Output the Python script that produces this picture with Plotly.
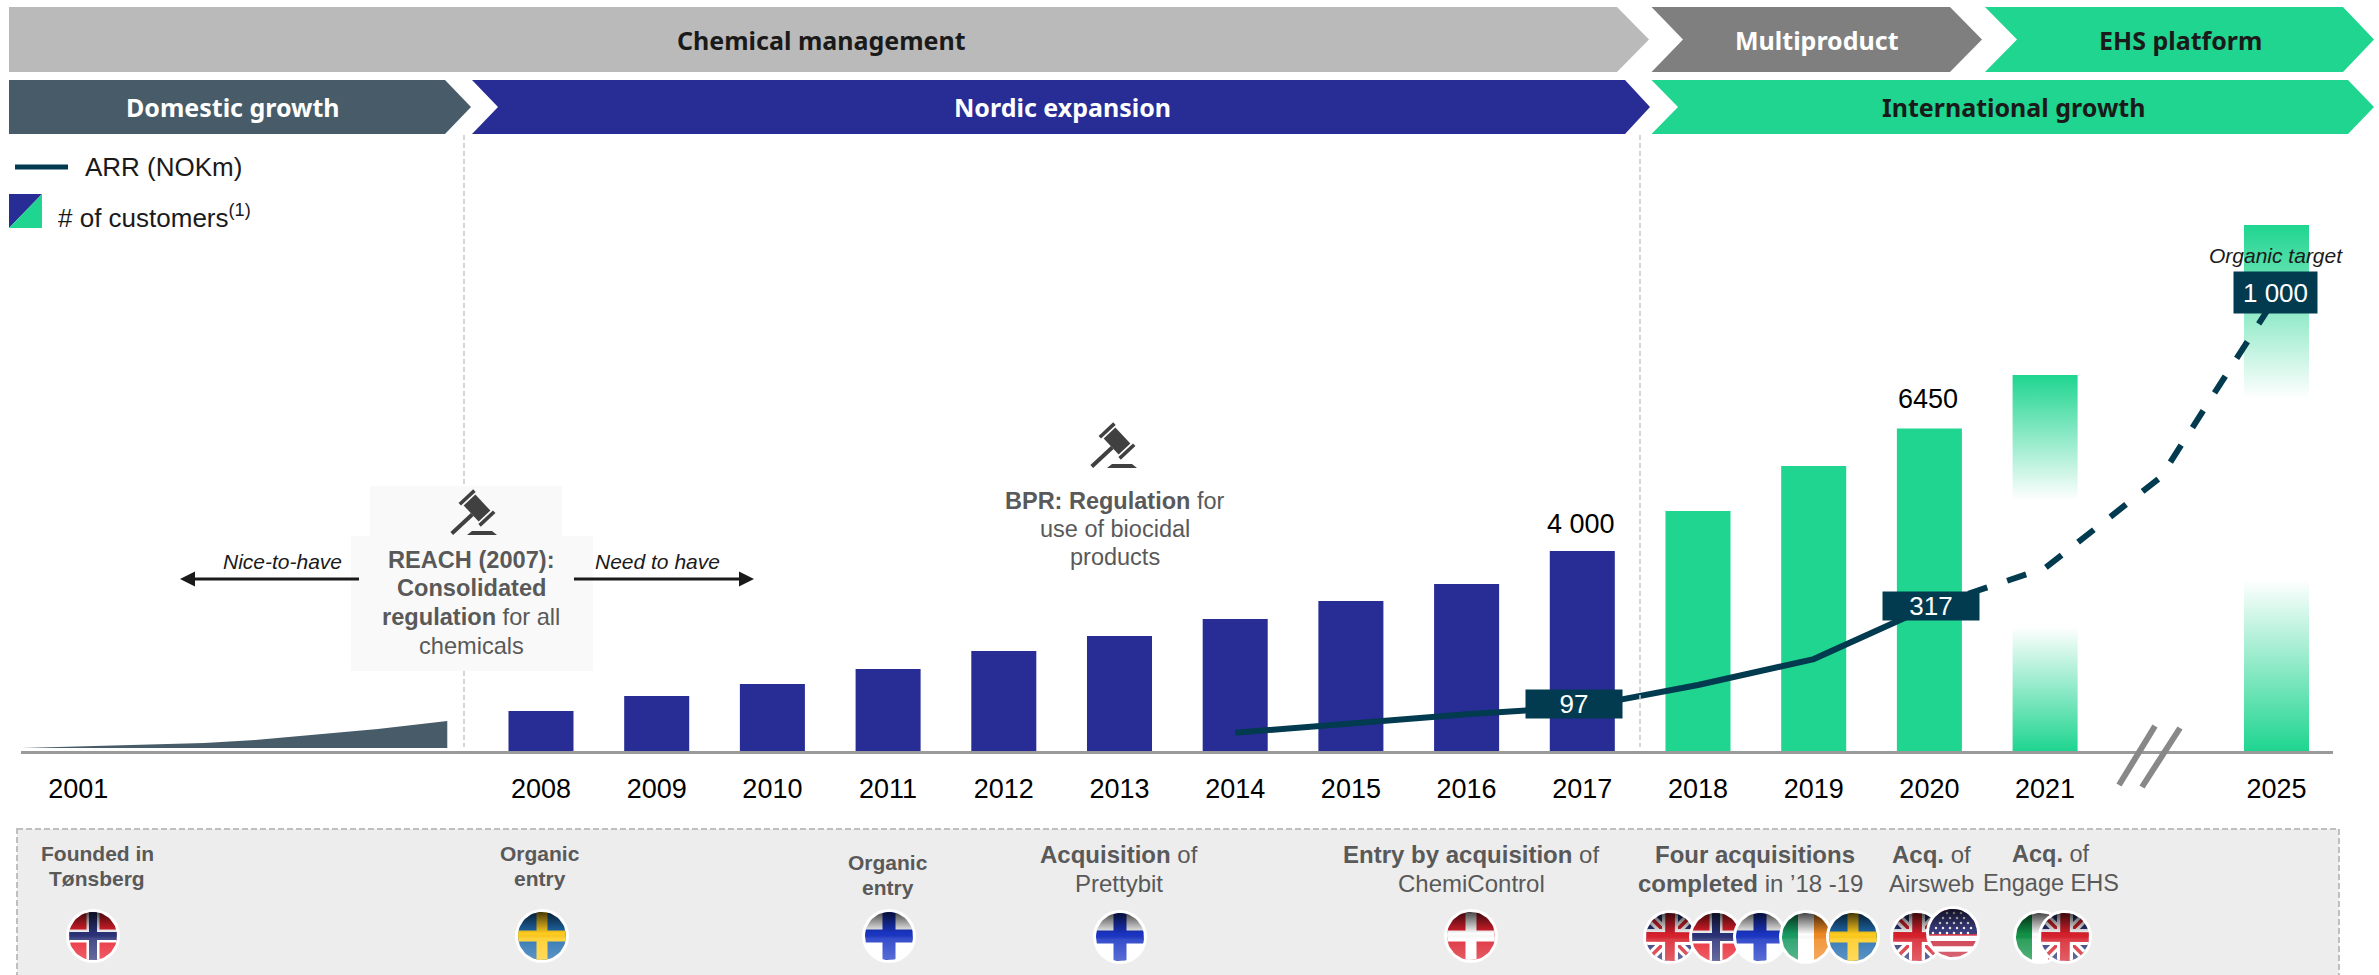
import math
import plotly.graph_objects as go

# ---------- data ----------
tick_labels = ["2001", "2008", "2009", "2010", "2011", "2012", "2013", "2014", "2015",
               "2016", "2017", "2018", "2019", "2020", "2021", "2025"]
tick_slots = [-4, 0, 1, 2, 3, 4, 5, 6, 7, 8, 9, 10, 11, 12, 13, 15]

bar_slots = [0, 1, 2, 3, 4, 5, 6, 7, 8, 9, 10, 11, 12, 13, 15]
customers = [800, 1100, 1340, 1640, 2000, 2300, 2640, 3000, 3340, 4000, 4800, 5700, 6450, 7520, 10520]

early_slots = [-4.49, -2.91, -2.47, -1.41, -0.81]
early_customers = [60, 160, 220, 440, 600]

arr_slots = [6, 7, 8, 9, 10, 11, 12]
arr_values = [40, 62, 81, 97, 145, 202, 317]
arr_target_slots = [12, 13, 14, 15]
arr_target_values = [317, 402, 602, 1000]

NAVY, GREEN, SLATE, TEAL = "#282D96", "#1FD590", "#475C68", "#023B4F"
W, H = 2379, 975
BASE_Y, TOP_Y = 751, 100
LEFT, RIGHT = 21, 2333
PX_PER_CUST, PX_PER_ARR = 0.05, 0.455
BAR_W = 0.562

fig = go.Figure()

# customers bars
fig.add_trace(go.Bar(x=bar_slots, y=customers, width=BAR_W,
                     marker=dict(color=[NAVY if s < 10 else GREEN for s in bar_slots], line_width=0),
                     hoverinfo="skip"))

# early period area
fig.add_trace(go.Scatter(x=early_slots + [early_slots[-1], early_slots[0]],
                         y=early_customers + [early_customers[0], early_customers[0]],
                         mode="lines", fill="toself", fillcolor=SLATE, line_width=0, hoverinfo="skip"))


# fade of the two future bars
def fade(slot, value, low, high):
    half = BAR_W / 2 + 0.006
    stops = [[0, "rgba(255,255,255,0)"], [low / value, "rgba(255,255,255,1)"],
             [high / value, "rgba(255,255,255,1)"], [1, "rgba(255,255,255,0)"]]
    fig.add_trace(go.Scatter(x=[slot - half, slot + half, slot + half, slot - half, slot - half],
                             y=[0, 0, value, value, 0], mode="lines", line_width=0, fill="toself",
                             fillgradient=dict(type="vertical", colorscale=stops), hoverinfo="skip"))


fade(13, 7520, 2480, 5020)
fade(15, 10520, 3420, 7060)

# ARR
fig.add_trace(go.Scatter(x=arr_slots, y=arr_values, yaxis="y2", mode="lines",
                         line=dict(color=TEAL, width=6), hoverinfo="skip"))
fig.add_trace(go.Scatter(x=arr_target_slots, y=arr_target_values, yaxis="y2", mode="lines",
                         line=dict(color=TEAL, width=6, dash="20px,21px"), hoverinfo="skip"))

# ---------- pixel-space helpers ----------
shapes, annots = [], []


def poly(points, color, line=None):
    d = "M" + " L".join(f"{x:.2f},{y:.2f}" for x, y in points) + " Z"
    shapes.append(dict(type="path", path=d, xref="x3", yref="y3", fillcolor=color,
                       line=dict(width=0) if line is None else line, layer="below"))


def txt(x, y, text, size=26, color="#000000", font="Liberation Sans", **kw):
    annots.append(dict(x=x, y=y, xref="x3", yref="y3", text=text, showarrow=False,
                       font=dict(size=size, color=color, family=font), xanchor=kw.pop("xanchor", "center"),
                       yanchor="middle", align="center", **kw))


def stack(x, ys, lines, size, color):
    for y, t in zip(ys, lines):
        txt(x, y, t, size, color)


def chevron(x0, x1, tip, y0, y1, notch=None, color="#000"):
    ym = (y0 + y1) / 2
    pts = [(x0, y0), (x1, y0), (tip, ym), (x1, y1), (x0, y1)]
    if notch is not None:
        pts.append((notch, ym))
    poly(pts, color)


HEAD = "Noto Sans"
chevron(9, 1617, 1649, 7, 72, color="#BABABA")
chevron(1651.5, 1950, 1982, 7, 72, notch=1683, color="#7F7F7F")
chevron(1985, 2343, 2374, 7, 72, notch=2017, color=GREEN)
chevron(9, 445, 471, 80, 134, color=SLATE)
chevron(472, 1625, 1650, 80, 134, notch=498, color=NAVY)
chevron(1651.5, 2348, 2374, 80, 134, notch=1678, color=GREEN)
txt(821, 40, "<b>Chemical management</b>", 25, "#1A1A1A", HEAD)
txt(1817, 40, "<b>Multiproduct</b>", 25, "#FFFFFF", HEAD)
txt(2180, 40, "<b>EHS platform</b>", 25, "#1A1A1A", HEAD)
txt(233, 107, "<b>Domestic growth</b>", 25, "#FFFFFF", HEAD)
txt(1062, 107, "<b>Nordic expansion</b>", 25, "#FFFFFF", HEAD)
txt(2013, 107, "<b>International growth</b>", 25, "#1A1A1A", HEAD)

# legend
shapes.append(dict(type="line", x0=15, x1=68, y0=167, y1=167, xref="x3", yref="y3",
                   line=dict(color=TEAL, width=5), layer="below"))
txt(83, 167, "ARR (NOKm)", 26, "#1A1A1A", xanchor="left")
poly([(9, 194), (42, 194), (9, 228)], NAVY)
poly([(42, 194), (42, 228), (9, 228)], GREEN)
txt(56, 216, "# of customers<sup>(1)</sup>", 26, "#1A1A1A", xanchor="left")

# vertical separators
for xs in (464, 1640):
    shapes.append(dict(type="line", x0=xs, x1=xs, y0=135, y1=747, xref="x3", yref="y3",
                       line=dict(color="#C8C8C8", width=1.5, dash="5px,3px"), layer="below"))

# REACH box
poly([(370, 486), (562, 486), (562, 536), (593, 536), (593, 671), (351, 671), (351, 536), (370, 536)], "#F9F9F9")


def gavel(cx, cy):
    col = "#404040"

    def rot(hx, hy, ox, oy, ang):
        c, s = math.cos(ang), math.sin(ang)
        pts = [(-hx, -hy), (hx, -hy), (hx, hy), (-hx, hy)]
        return [(cx + ox + c * x - s * y, cy + oy + s * x + c * y) for x, y in pts]

    a = math.radians(43)
    ax_x, ax_y = math.sin(a), math.cos(a)
    poly(rot(14, 2, -11, 11, -a), col)                 # handle
    poly(rot(11, 8, 4, -5, math.pi / 2 - a), col)      # head
    poly(rot(10, 1.8, 4 - 14.5 * ax_x, -5 - 14.5 * ax_y, -a), col)  # cheek
    poly(rot(10, 1.8, 4 + 14.5 * ax_x, -5 + 14.5 * ax_y, -a), col)  # cheek
    poly([(cx - 1, cy + 18), (cx + 19, cy + 18), (cx + 24, cy + 22), (cx - 6, cy + 22)], col)  # base


gavel(473, 513)
gavel(1113, 446)

GREY_T = "#595959"
stack(471, [560, 588, 617, 646],
      ["<b>REACH (2007):</b>", "<b>Consolidated</b>", "<b>regulation</b> for all", "chemicals"], 23.6, GREY_T)
stack(1115, [501, 529, 557], ["<b>BPR: Regulation</b> for", "use of biocidal", "products"], 23.5, GREY_T)
txt(282, 561, "<i>Nice-to-have</i>", 21, "#1A1A1A")
txt(657, 561, "<i>Need to have</i>", 21, "#1A1A1A")

# arrows
for x_tip, x_end, sign in ((180, 359, 1), (754, 574, -1)):
    shapes.append(dict(type="line", x0=x_tip + sign * 10, x1=x_end, y0=579, y1=579, xref="x3", yref="y3",
                       line=dict(color="#1A1A1A", width=3)))
    poly([(x_tip, 579), (x_tip + sign * 15, 571.5), (x_tip + sign * 15, 586.5)], "#1A1A1A")

# break mark
for x0, y0, x1, y1 in ((2155, 726, 2119, 785), (2180, 728, 2142, 787)):
    shapes.append(dict(type="line", x0=x0, y0=y0, x1=x1, y1=y1, xref="x3", yref="y3",
                       line=dict(color="#888888", width=6)))

# value labels
txt(1581, 524, "4 000", 27)
txt(1928, 399, "6450", 27)
txt(2276, 255, "<i>Organic target</i>", 21, "#1A1A1A")
for x, y, w, h, t in ((1574, 704, 94, 26, "97"), (1931, 606, 94, 26, "317"), (2275, 292, 81, 39, "1 000")):
    annots.append(dict(x=x, y=y, xref="x3", yref="y3", text=t, showarrow=False, width=w, height=h,
                       bgcolor=TEAL, font=dict(size=26, color="#FFFFFF", family="Liberation Sans"),
                       xanchor="center", yanchor="middle", valign="middle", align="center"))

# bottom panel
shapes.append(dict(type="rect", x0=17, x1=2339, y0=829, y1=980, xref="x3", yref="y3", fillcolor="#EDEDED",
                   line=dict(color="#BFBFBF", width=2, dash="6px,3px"), layer="below"))
stack(97, [853, 878], ["<b>Founded in</b>", "<b>Tønsberg</b>"], 21, GREY_T)
stack(540, [853, 878], ["<b>Organic</b>", "<b>entry</b>"], 21, GREY_T)
stack(888, [862, 887], ["<b>Organic</b>", "<b>entry</b>"], 21, GREY_T)
stack(1119, [854, 883], ["<b>Acquisition</b> of", "Prettybit"], 24, GREY_T)
stack(1471, [854, 883], ["<b>Entry by acquisition</b> of", "ChemiControl"], 24, GREY_T)
txt(1755, 854, "<b>Four acquisitions</b>", 24, GREY_T)
txt(1750, 883, "<b>completed</b> in ’18 -19", 24, GREY_T)
stack(1931, [854, 883], ["<b>Acq.</b> of", "Airsweb"], 24, GREY_T)
stack(2051, [854, 883], ["<b>Acq.</b> of", "Engage EHS"], 23.5, GREY_T)


# ---------- flags ----------
def circle_pts(cx, cy, r, n=64):
    return [(cx + r * math.cos(2 * math.pi * i / n), cy + r * math.sin(2 * math.pi * i / n)) for i in range(n)]


def clip_to_circle(points, cx, cy, r, n=64):
    clipper = circle_pts(cx, cy, r, n)
    out = points
    for i in range(n):
        a, b = clipper[i], clipper[(i + 1) % n]
        inside = lambda p: (b[0] - a[0]) * (p[1] - a[1]) - (b[1] - a[1]) * (p[0] - a[0]) >= 0
        def cross(p, q):
            dx1, dy1 = q[0] - p[0], q[1] - p[1]
            dx2, dy2 = b[0] - a[0], b[1] - a[1]
            t = ((a[0] - p[0]) * dy2 - (a[1] - p[1]) * dx2) / (dx1 * dy2 - dy1 * dx2)
            return (p[0] + t * dx1, p[1] + t * dy1)
        res = []
        for j in range(len(out)):
            p, q = out[j], out[(j + 1) % len(out)]
            if inside(p):
                res.append(p)
                if not inside(q):
                    res.append(cross(p, q))
            elif inside(q):
                res.append(cross(p, q))
        out = res
        if not out:
            break
    return out


def part(points, color):
    if len(points) < 3:
        return
    xs = [p[0] for p in points] + [points[0][0]]
    ys = [p[1] for p in points] + [points[0][1]]
    fig.add_trace(go.Scatter(x=xs, y=ys, xaxis="x3", yaxis="y3", mode="lines", line_width=0, fill="toself",
                             fillcolor=color, hoverinfo="skip"))


def rect(x0, y0, x1, y1):
    return [(x0, y0), (x1, y0), (x1, y1), (x0, y1)]


def band(x0, y0, x1, y1, w):
    L = math.hypot(x1 - x0, y1 - y0)
    nx, ny = -(y1 - y0) / L * w / 2, (x1 - x0) / L * w / 2
    return [(x0 + nx, y0 + ny), (x1 + nx, y1 + ny), (x1 - nx, y1 - ny), (x0 - nx, y0 - ny)]


def flag(kind, cx, cy, r=24):
    part(circle_pts(cx, cy, r + 3), "#FFFFFF")
    add = lambda pts, c: part(clip_to_circle(pts, cx, cy, r), c)
    R = r + 2
    full = rect(cx - R, cy - R, cx + R, cy + R)

    def crossf(bg, outer, inner, wo, wi):
        add(full, bg)
        if outer:
            add(rect(cx - wo, cy - R, cx + wo, cy + R), outer)
            add(rect(cx - R, cy - wo, cx + R, cy + wo), outer)
        if inner:
            add(rect(cx - wi, cy - R, cx + wi, cy + R), inner)
            add(rect(cx - R, cy - wi, cx + R, cy + wi), inner)

    if kind == "no":
        crossf("#E8202C", "#FFFFFF", "#2A3277", 6.5, 4)
    elif kind == "se":
        crossf("#1F6BAE", None, "#FFCC1E", 0, 5.5)
    elif kind == "fi":
        crossf("#FFFFFF", None, "#1A35C4", 0, 6.5)
    elif kind == "dk":
        crossf("#DA1F2B", None, "#FFFFFF", 0, 5.5)
    elif kind == "uk":
        add(full, "#2A3277")
        for sx, sy, ex, ey in ((-R, -R, R, R), (-R, R, R, -R)):
            add(band(cx + sx, cy + sy, cx + ex, cy + ey, 10), "#FFFFFF")
            add(band(cx + sx, cy + sy, cx + ex, cy + ey, 3.5), "#D8202C")
        add(rect(cx - 8, cy - R, cx + 8, cy + R), "#FFFFFF")
        add(rect(cx - R, cy - 8, cx + R, cy + 8), "#FFFFFF")
        add(rect(cx - 5, cy - R, cx + 5, cy + R), "#D8202C")
        add(rect(cx - R, cy - 5, cx + R, cy + 5), "#D8202C")
    elif kind == "ie":
        add(full, "#FFFFFF")
        add(rect(cx - R, cy - R, cx - r / 3, cy + R), "#169B62")
        add(rect(cx + r / 3, cy - R, cx + R, cy + R), "#F08A24")
    elif kind == "it":
        add(full, "#FFFFFF")
        add(rect(cx - R, cy - R, cx - r / 3, cy + R), "#119246")
        add(rect(cx + r / 3, cy - R, cx + R, cy + R), "#CE2B37")
    elif kind == "us":
        add(full, "#FFFFFF")
        step = 2 * r / 9
        for i in range(0, 9, 2):
            add(rect(cx - R, cy - r + i * step, cx + R, cy - r + (i + 1) * step), "#C8283C")
        add(rect(cx - R, cy - R, cx + R, cy + 1), "#3A3C7E")
        sx, sy = [], []
        for row in range(5):
            for col in range(7):
                px_, py_ = cx - r + 4 + col * 7 + (row % 2) * 3, cy - r + 4 + row * 5
                if (px_ - cx) ** 2 + (py_ - cy) ** 2 < (r - 2) ** 2:
                    sx.append(px_)
                    sy.append(py_)
        fig.add_trace(go.Scatter(x=sx, y=sy, xaxis="x3", yaxis="y3", mode="markers", hoverinfo="skip",
                                 marker=dict(size=2.5, color="#FFFFFF", line_width=0)))
    # gloss
    g = circle_pts(cx, cy, r)
    fig.add_trace(go.Scatter(x=[p[0] for p in g] + [g[0][0]], y=[p[1] for p in g] + [g[0][1]],
                             xaxis="x3", yaxis="y3", mode="lines", line_width=0, fill="toself", hoverinfo="skip",
                             fillgradient=dict(type="vertical", colorscale=[
                                 [0, "rgba(255,255,255,0.28)"], [0.45, "rgba(255,255,255,0.12)"],
                                 [0.55, "rgba(0,0,0,0)"], [1, "rgba(0,0,0,0.72)"]])))


for kind, cx, cy in (("no", 93, 936), ("se", 542, 936), ("fi", 889, 936), ("fi", 1120, 937), ("dk", 1471, 936),
                     ("uk", 1670, 937), ("no", 1716, 937), ("fi", 1760, 937), ("ie", 1806, 937), ("se", 1853, 937),
                     ("uk", 1917, 937), ("us", 1953, 933), ("it", 2040, 937), ("uk", 2065, 937)):
    flag(kind, cx, cy)

# ---------- layout ----------
fig.update_layout(
    width=W, height=H, autosize=False, margin=dict(l=0, r=0, t=0, b=0), showlegend=False,
    paper_bgcolor="#FFFFFF", plot_bgcolor="rgba(0,0,0,0)", shapes=shapes, annotations=annots,
    xaxis=dict(domain=[LEFT / W, RIGHT / W], range=[(LEFT - 541) / 115.7, (RIGHT - 541) / 115.7],
               tickmode="array", tickvals=tick_slots, ticktext=tick_labels, showgrid=False, zeroline=False,
               showline=True, linecolor="#9A9A9A", linewidth=3, ticks="outside", ticklen=12,
               tickcolor="rgba(0,0,0,0)", tickfont=dict(size=27, color="#000000", family="Liberation Sans")),
    yaxis=dict(domain=[1 - BASE_Y / H, 1 - TOP_Y / H], range=[0, (BASE_Y - TOP_Y) / PX_PER_CUST], visible=False),
    yaxis2=dict(domain=[1 - BASE_Y / H, 1 - TOP_Y / H], range=[0, (BASE_Y - TOP_Y) / PX_PER_ARR], visible=False,
                overlaying="y"),
    xaxis3=dict(domain=[0, 1], range=[0, W], visible=False, anchor="y3"),
    yaxis3=dict(domain=[0, 1], range=[H, 0], visible=False, anchor="x3"),
)

fig.write_html("out.html", config=dict(displayModeBar=False),
               post_script="document.body.style.margin='0';document.body.style.overflow='hidden';")
